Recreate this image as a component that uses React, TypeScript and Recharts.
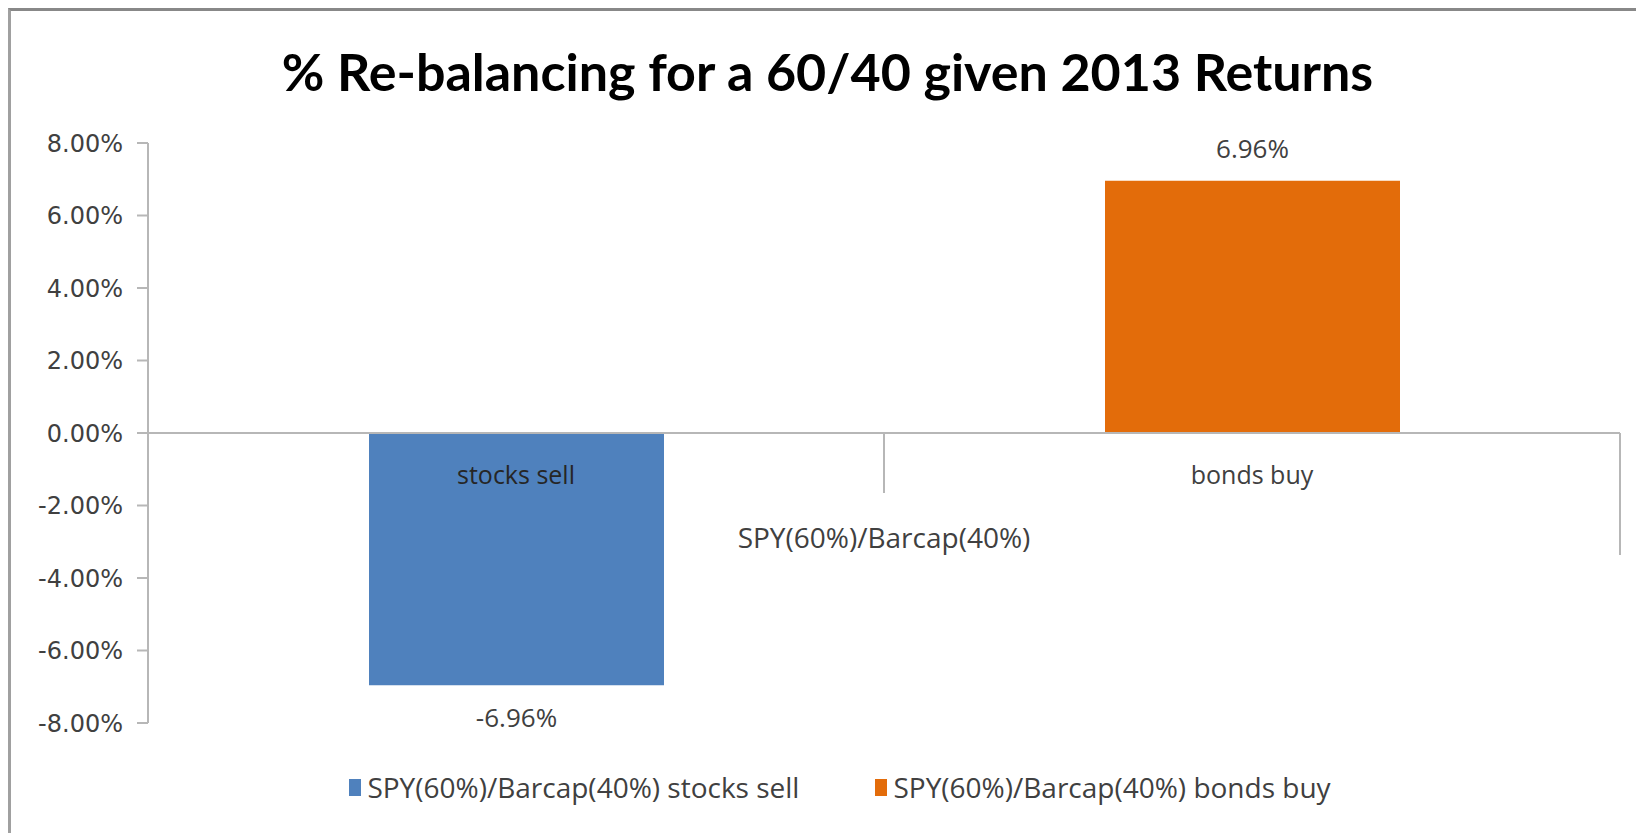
import { Bar, BarChart, LabelList, Legend, ReferenceLine, XAxis, YAxis } from 'recharts';

const TITLE = '% Re-balancing for a 60/40 given 2013 Returns';
const CATEGORIES = ['stocks sell', 'bonds buy'];
const GROUP_LABEL = 'SPY(60%)/Barcap(40%)';
const STOCKS_SELL = [-0.0696, null];
const BONDS_BUY = [null, 0.0696];
const Y_TICKS = [-0.08, -0.06, -0.04, -0.02, 0, 0.02, 0.04, 0.06, 0.08];

const SERIES = [
	{ key: 'stocksSell', name: 'SPY(60%)/Barcap(40%) stocks sell', color: '#4F81BD' },
	{ key: 'bondsBuy', name: 'SPY(60%)/Barcap(40%) bonds buy', color: '#E36C0A' },
];

const data = CATEGORIES.map((category, i) => ({
	category,
	stocksSell: STOCKS_SELL[i],
	bondsBuy: BONDS_BUY[i],
}));

const W = 1633;
const H = 814;
const X_AXIS_H = 20;
const MARGIN = { top: 132, right: 24, bottom: H - 132 - 580 - X_AXIS_H, left: 0 };
const Y_AXIS_W = 137;
const PLOT_H = H - MARGIN.top - MARGIN.bottom - X_AXIS_H;
const Y_MIN = Y_TICKS[0];
const Y_MAX = Y_TICKS[Y_TICKS.length - 1];
const ZERO_Y = MARGIN.top + (PLOT_H * Y_MAX) / (Y_MAX - Y_MIN);
const BAND = (W - MARGIN.right - Y_AXIS_W) / CATEGORIES.length;

const AXIS = '#b7b7b7';
const TEXT = '#404040';
const LABEL_FONT = '"Open Sans", sans-serif';

const pct = (v: number) => `${(v * 100).toFixed(2)}%`;
const labelPct = (v: unknown) => (v == null || v === 0 ? '' : pct(Number(v)));

// excel-style two-level category axis, drawn at the zero line
const CategoryTick = (props: any) => {
	const { x, payload, index } = props;
	return (
		<g>
			<text
				x={x}
				y={ZERO_Y + 41}
				textAnchor="middle"
				dominantBaseline="central"
				fontFamily={LABEL_FONT}
				fontSize={25}
				fill={index === 0 ? '#262626' : TEXT}
			>
				{payload.value}
			</text>
			{index === 1 && (
				<g>
					<line x1={x - BAND / 2} x2={x - BAND / 2} y1={ZERO_Y} y2={ZERO_Y + 60} stroke={AXIS} strokeWidth={2} />
					<line x1={x + BAND / 2} x2={x + BAND / 2} y1={ZERO_Y} y2={ZERO_Y + 122} stroke={AXIS} strokeWidth={2} />
					<text
						x={x - BAND / 2}
						y={ZERO_Y + 104}
						textAnchor="middle"
						dominantBaseline="central"
						fontFamily={LABEL_FONT}
						fontSize={28}
						fill={TEXT}
					>
						{GROUP_LABEL}
					</text>
				</g>
			)}
		</g>
	);
};

const LegendContent = (props: any) => {
	const items = [...(props.payload ?? [])].sort(
		(a: any, b: any) => SERIES.findIndex((s) => s.name === a.value) - SERIES.findIndex((s) => s.name === b.value),
	);
	return (
		<div style={{ display: 'flex', justifyContent: 'center', gap: 76, fontFamily: LABEL_FONT, fontSize: 28, color: TEXT }}>
			{items.map((item: any) => (
				<div key={item.value} style={{ display: 'flex', alignItems: 'center' }}>
					<span style={{ display: 'inline-block', width: 12, height: 17, background: item.color, marginRight: 6 }} />
					<span>{item.value}</span>
				</div>
			))}
		</div>
	);
};

export default function App() {
	return (
		<div
			style={{
				position: 'relative',
				width: 1636,
				height: 825,
				boxSizing: 'border-box',
				borderLeft: '3px solid #a0a0a0',
				borderTop: '3px solid #888',
				background: '#fff',
				overflow: 'hidden',
			}}
		>
			<style>{'html, body { overflow: hidden; }'}</style>
			<div
				style={{
					position: 'absolute',
					top: 34,
					left: 0,
					width: W,
					textAlign: 'center',
					fontFamily: 'Lato, sans-serif',
					fontWeight: 700,
					fontSize: 52,
					lineHeight: 1,
					color: '#000',
				}}
			>
				{TITLE}
			</div>
			<BarChart width={W} height={H} data={data} margin={MARGIN} stackOffset="sign">
				<YAxis
					width={Y_AXIS_W}
					domain={[Y_MIN, Y_MAX]}
					ticks={Y_TICKS}
					tickFormatter={pct}
					axisLine={{ stroke: AXIS, strokeWidth: 2 }}
					tickLine={{ stroke: AXIS, strokeWidth: 2 }}
					tickSize={11}
					tickMargin={14}
					tick={{ fill: TEXT, fontSize: 24, fontFamily: '"DejaVu Sans", sans-serif' }}
					allowDataOverflow
				/>
				<XAxis
					dataKey="category"
					height={X_AXIS_H}
					axisLine={false}
					tickLine={false}
					interval={0}
					tick={<CategoryTick />}
				/>
				<ReferenceLine y={0} stroke={AXIS} strokeWidth={2} />
				{SERIES.map((s) => (
					<Bar key={s.key} dataKey={s.key} name={s.name} stackId="a" fill={s.color} barSize={295} isAnimationActive={false}>
						<LabelList
							dataKey={s.key}
							position="top"
							offset={23}
							formatter={labelPct}
							fill={TEXT}
							fontSize={26}
							fontFamily={LABEL_FONT}
						/>
					</Bar>
				))}
				<Legend
					verticalAlign="middle"
					align="center"
					itemSorter={null}
					content={<LegendContent />}
					wrapperStyle={{ top: 757, left: 25, width: 1608 }}
				/>
			</BarChart>
		</div>
	);
}
